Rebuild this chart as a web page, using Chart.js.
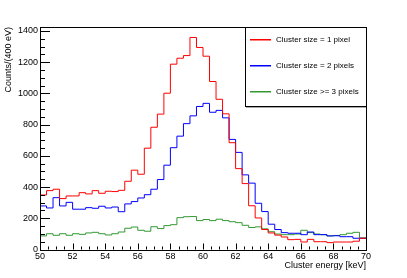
<!DOCTYPE html>
<html>
<head>
<meta charset="utf-8">
<script src="https://cdn.jsdelivr.net/npm/chart.js@4.4.1/dist/chart.umd.min.js"></script>
<style>
html, body { margin: 0; padding: 0; background: #fff; }
#wrap { width: 407px; height: 278px; }
</style>
</head>
<body>
<div id="wrap"><canvas id="mainChart" width="407" height="278"></canvas></div>
<script>
'use strict';

// histogram binning: 50 bins of 400 eV from 50 to 70 keV
const binStart = 50;
const binWidth = 0.4;

const xTicks = [50, 52, 54, 56, 58, 60, 62, 64, 66, 68, 70];
const yTicks = [0, 200, 400, 600, 800, 1000, 1200, 1400];

const seriesNames  = ['Cluster size = 1 pixel', 'Cluster size = 2 pixels', 'Cluster size >= 3 pixels'];
const seriesColors = ['rgb(255,0,0)', 'rgb(0,0,255)', 'rgb(51,153,51)'];

const size1 = [349, 377, 386, 326, 343, 343, 364, 356, 377, 360,
               373, 371, 379, 437, 508, 482, 649, 783, 867, 1001,
               1187, 1225, 1242, 1358, 1294, 1238, 1076, 962, 869, 684,
               518, 422, 280, 202, 128, 106, 92, 80, 63, 65,
               48, 65, 50, 50, 44, 48, 48, 48, 53, 72];
const size2 = [279, 266, 332, 279, 302, 258, 258, 268, 264, 277,
               266, 272, 242, 292, 307, 330, 351, 386, 448, 540,
               652, 726, 806, 856, 916, 936, 879, 891, 843, 705,
               622, 478, 425, 296, 243, 162, 128, 108, 104, 104,
               95, 112, 95, 95, 87, 88, 82, 82, 72, 72];
const size3 = [87, 101, 91, 101, 91, 101, 97, 106, 110, 101,
               93, 101, 112, 136, 144, 123, 117, 146, 134, 153,
               159, 204, 210, 211, 185, 192, 185, 194, 185, 178,
               172, 155, 141, 145, 132, 114, 99, 95, 95, 99,
               123, 108, 99, 95, 87, 90, 95, 104, 110, 74];

const FONT = '"Liberation Sans", Arial, Helvetica, sans-serif';

// step outline: one point per lower bin edge, plus the closing edge
function toSteps(vals) {
    const pts = vals.map((v, i) => ({ x: binStart + i * binWidth, y: v }));
    pts.push({ x: binStart + vals.length * binWidth, y: vals[vals.length - 1] });
    return pts;
}

function histo(i, vals) {
    return {
        label: seriesNames[i],
        data: toSteps(vals),
        borderColor: seriesColors[i],
        backgroundColor: seriesColors[i],
        borderWidth: 1,
        pointRadius: 0,
        stepped: 'before',   // horizontal first, then vertical at next edge
        fill: false,
    };
}

const rootFrame = {
    id: 'rootFrame',
    afterDraw(chart) {
        const { ctx, chartArea: { left, right, top, bottom }, scales: { x, y } } = chart;
        ctx.save();
        ctx.fillStyle = '#000';

        // inward ticks, ROOT style (1px rects)
        for (let v = 0; v <= y.max; v += 50) {
            const py = Math.round(y.getPixelForValue(v));
            ctx.fillRect(left, py, v % 200 === 0 ? 10 : 5, 1);
        }
        for (let v = x.min; v <= x.max + 1e-9; v += 0.5) {
            const px = Math.round(x.getPixelForValue(v));
            const len = Math.abs(v % 2) < 1e-9 ? 6 : 3;
            ctx.fillRect(px, bottom - len, 1, len);
        }

        // legend box with ROOT shadow
        const lx0 = 245, ly0 = Math.round(top), lx1 = Math.round(right), ly1 = 106;
        ctx.fillStyle = '#fff';
        ctx.fillRect(lx0, ly0, lx1 - lx0, ly1 - ly0);
        ctx.fillStyle = '#555';
        ctx.fillRect(lx0 + 1, ly1, lx1 - lx0, 1.5);
        ctx.lineWidth = 1;
        ctx.strokeStyle = '#000';
        ctx.strokeRect(lx0 + 0.5, ly0 + 0.5, lx1 - lx0, ly1 - ly0);

        ctx.font = '8px ' + FONT;
        ctx.textBaseline = 'middle';
        ctx.textAlign = 'left';
        seriesNames.forEach((name, i) => {
            const ly = Math.round(39 + i * 26.2);
            ctx.fillStyle = seriesColors[i];
            ctx.fillRect(250, ly, 21, 1.5);
            ctx.fillStyle = '#000';
            ctx.fillText(name, 276, ly + 0.5);
        });

        // frame
        ctx.strokeStyle = '#000';
        ctx.strokeRect(Math.round(left) + 0.5, Math.round(top) + 0.5, Math.round(right - left), Math.round(bottom - top));
        ctx.restore();
    },
};

const ctx = document.getElementById('mainChart').getContext('2d');
new Chart(ctx, {
    type: 'line',
    data: {
        datasets: [histo(0, size1), histo(1, size2), histo(2, size3)],
    },
    options: {
        responsive: false,
        animation: false,
        events: [],
        layout: { padding: { top: 27, right: 41, left: 0, bottom: 0 } },
        plugins: { legend: { display: false }, tooltip: { enabled: false } },
        scales: {
            x: {
                type: 'linear', min: 50, max: 70,
                afterBuildTicks(axis) { axis.ticks = xTicks.map(v => ({ value: v })); },
                ticks: {
                    font: { family: FONT, size: 9 }, color: '#000', padding: 2,
                    maxRotation: 0, autoSkip: false, callback: v => String(v),
                },
                grid: { display: false, drawTicks: false },
                border: { display: false },
                title: {
                    display: true, text: 'Cluster energy [keV]', align: 'end', color: '#000',
                    font: { family: FONT, size: 9 }, padding: { top: 0, bottom: 7 },
                },
                afterFit(scale) { scale.height = 28.5; },
            },
            y: {
                type: 'linear', min: 0, max: 1425,
                afterBuildTicks(axis) { axis.ticks = yTicks.map(v => ({ value: v })); },
                ticks: { font: { family: FONT, size: 9 }, color: '#000', padding: 2, callback: v => String(v) },
                grid: { display: false, drawTicks: false },
                border: { display: false },
                title: {
                    display: true, text: 'Counts/(400 eV)', align: 'end', color: '#000',
                    font: { family: FONT, size: 9 }, padding: { top: 3, bottom: 0 },
                },
                afterFit(scale) { scale.width = 40; },
            },
        },
    },
    plugins: [rootFrame],
});
</script>
</body>
</html>
